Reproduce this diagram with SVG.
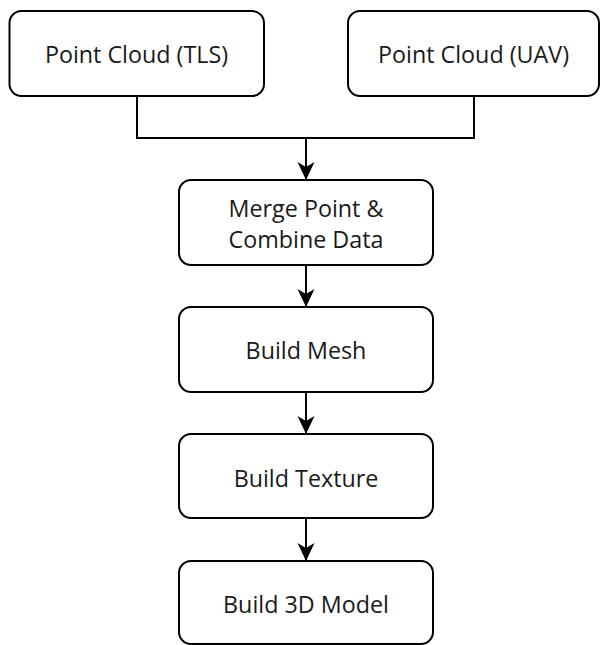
<svg xmlns="http://www.w3.org/2000/svg" width="600" height="645" viewBox="0 0 600 645">
<style>
.box{fill:#fff;stroke:#000;stroke-width:2}
.lbl{font-family:"Open Sans","Liberation Sans",sans-serif;font-size:23.3px;fill:#1a1a1a;text-anchor:middle}
.con{fill:none;stroke:#000;stroke-width:2}
</style>
<defs>
<marker id="ah" markerUnits="userSpaceOnUse" markerWidth="18" markerHeight="18" viewBox="0 0 18 18" refX="18" refY="9" orient="auto">
<path d="M0,0.5 L18,9 L0,17.5 L5,9 Z" fill="#000"/>
</marker>
</defs>
<rect width="600" height="645" fill="#fff"/>
<g id="connectors">
<path class="con" d="M137,96 V138 H474 V96"/>
<path class="con" d="M306,138 V180" marker-end="url(#ah)"/>
<path class="con" d="M306,265 V307" marker-end="url(#ah)"/>
<path class="con" d="M306,392 V434" marker-end="url(#ah)"/>
<path class="con" d="M306,518 V561" marker-end="url(#ah)"/>
</g>
<g id="n_tls"><rect class="box" x="9.5" y="11" width="254.5" height="85" rx="12"/><text class="lbl" x="136.5" y="63">Point Cloud (TLS)</text></g>
<g id="n_uav"><rect class="box" x="348" y="11" width="251" height="85" rx="12"/><text class="lbl" x="473.5" y="63">Point Cloud (UAV)</text></g>
<g id="n_merge"><rect class="box" x="179" y="180" width="254" height="85" rx="12"/><text class="lbl" x="306" y="217">Merge Point &amp;</text><text class="lbl" x="306" y="248">Combine Data</text></g>
<g id="n_mesh"><rect class="box" x="179" y="307" width="254" height="85" rx="12"/><text class="lbl" x="306" y="359">Build Mesh</text></g>
<g id="n_texture"><rect class="box" x="179" y="434" width="254" height="84" rx="12"/><text class="lbl" x="306" y="486.5">Build Texture</text></g>
<g id="n_model"><rect class="box" x="179" y="561" width="254" height="83" rx="12"/><text class="lbl" x="306" y="612.5">Build 3D Model</text></g>
</svg>
